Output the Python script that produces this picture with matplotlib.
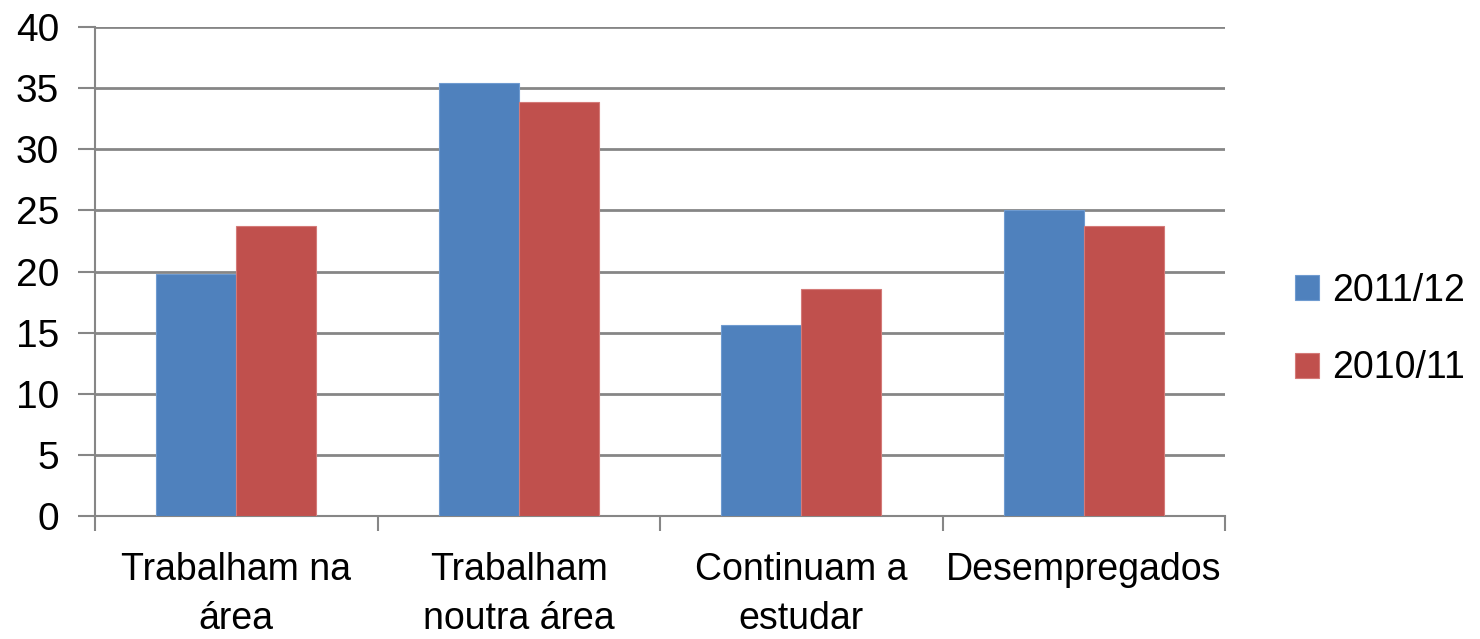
import matplotlib
matplotlib.use("Agg")
import matplotlib.pyplot as plt
import numpy as np

# values
categories = ["Trabalham na\nárea", "Trabalham\nnoutra área", "Continuam a\nestudar", "Desempregados"]
series_names = ["2011/12", "2010/11"]
vals_2011_12 = [19.8, 35.4, 15.6, 25.0]
vals_2010_11 = [23.7, 33.9, 18.6, 23.7]
y_ticks = [0, 5, 10, 15, 20, 25, 30, 35, 40]

plt.rcParams["font.family"] = ["Liberation Sans", "DejaVu Sans"]
grey = "#868686"

fig = plt.figure(figsize=(14.8, 6.39), dpi=100)
ax = fig.add_axes([95 / 1480, 1 - 516 / 639, 1130 / 1480, 489 / 639])

x = np.arange(len(categories))
w = 0.284
ax.bar(x - w / 2, vals_2011_12, w, color="#4F81BD", edgecolor="#6f9bd0", linewidth=0.8,
       label=series_names[0], zorder=3)
ax.bar(x + w / 2, vals_2010_11, w, color="#C0504D", edgecolor="#d47a78", linewidth=0.8,
       label=series_names[1], zorder=3)

ax.set_xlim(-0.5, len(categories) - 0.5)
ax.set_ylim(0, 40)
ax.set_yticks(y_ticks)
ax.yaxis.grid(True, color=grey, linewidth=2, zorder=0)

ax.set_xticks(x)
ax.set_xticklabels(categories, fontsize=27, linespacing=1.45)
ax.set_xticks(np.arange(-0.5, len(categories)), minor=True)
ax.tick_params(axis="x", which="major", length=0, pad=26)
ax.tick_params(axis="x", which="minor", length=11, width=1.5, color=grey, direction="out")
ax.tick_params(axis="y", length=12, width=1.5, color=grey, direction="out", labelsize=28, pad=14)

for s in ["top", "right"]:
    ax.spines[s].set_visible(False)
for s in ["left", "bottom"]:
    ax.spines[s].set_color(grey)
    ax.spines[s].set_linewidth(1.5)

leg = fig.legend(loc="upper left", bbox_to_anchor=(1295 / 1480, 1 - 273 / 639),
                 frameon=False, fontsize=27, borderpad=0, borderaxespad=0,
                 handlelength=0.65, handleheight=0.65,
                 handletextpad=0.35, labelspacing=1.1)

fig.savefig("out.png", dpi=100)
